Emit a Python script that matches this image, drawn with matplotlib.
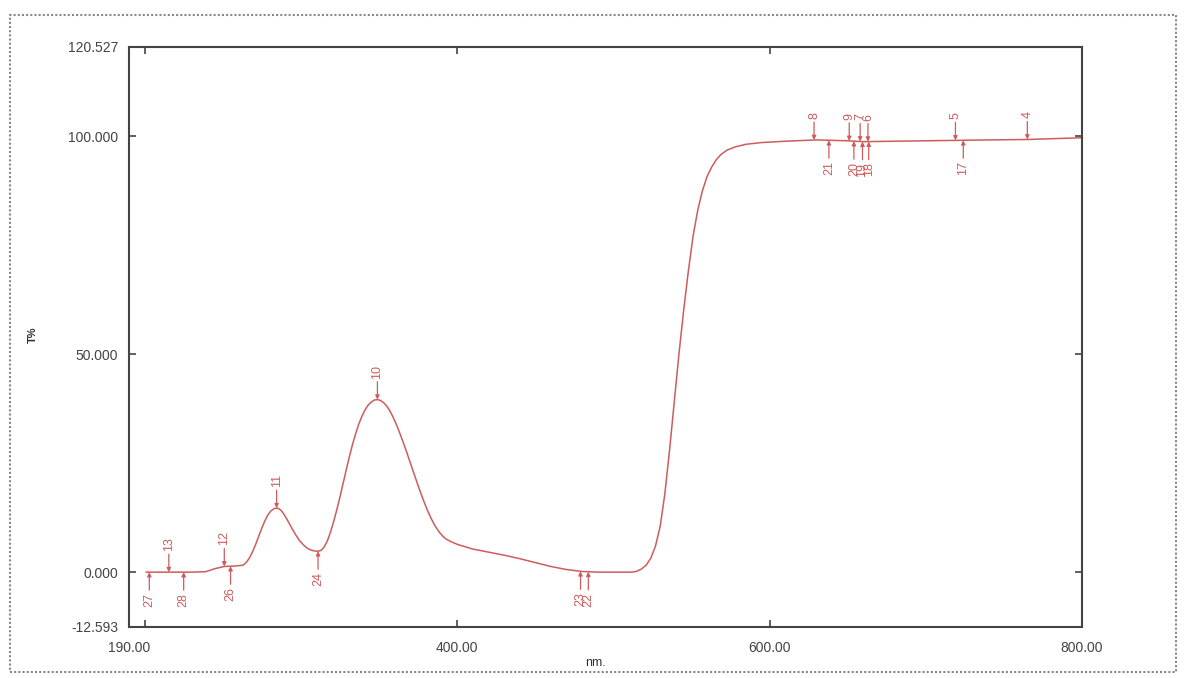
import numpy as np
import matplotlib
matplotlib.use("Agg")
import matplotlib.pyplot as plt
from matplotlib.patches import Rectangle

plt.rcParams["font.family"] = ["Liberation Sans", "DejaVu Sans"]

# spectrum (nm, T%)
WL = [201, 210, 220, 230, 239, 245, 251, 258, 263,
      265, 267, 269, 271, 273, 275, 277, 279, 281, 283, 285, 287, 289, 291, 293,
      295, 297, 299, 301, 303, 305, 307, 309, 311,
      313, 315, 317, 319, 321, 323, 325, 327, 329, 331, 333, 335, 337, 339, 341,
      343, 345, 347, 349, 351, 353, 355, 357, 359, 361, 363, 365, 367, 369, 371,
      373, 375, 377, 379, 381, 383, 385, 387, 389, 391, 393, 396, 400,
      410, 420, 430, 440, 450, 460, 470, 480, 490, 500, 512,
      515, 518, 521, 524, 527, 530, 533, 536, 539, 542, 545, 548, 551, 554, 557,
      560, 563, 566, 569, 573, 578, 585, 595, 610, 630, 650, 660, 680, 700, 720,
      740, 765, 800]
TRANS = [0.0, 0.0, 0.0, 0.0, 0.1, 0.8, 1.3, 1.4, 1.6,
         2.2, 3.2, 4.6, 6.3, 8.2, 10.1, 11.8, 13.2, 14.1, 14.6, 14.7, 14.3, 13.4, 12.2, 10.9,
         9.6, 8.4, 7.3, 6.5, 5.8, 5.3, 5.0, 4.85, 4.8,
         5.0, 5.8, 7.2, 9.2, 11.6, 14.3, 17.2, 20.3, 23.4, 26.4, 29.2, 31.7, 33.9, 35.7, 37.2,
         38.3, 39.0, 39.5, 39.6, 39.4, 38.9, 38.1, 37.0, 35.6, 34.0, 32.2, 30.3, 28.3, 26.2, 24.1,
         22.0, 19.9, 17.9, 16.0, 14.2, 12.6, 11.2, 10.0, 9.0, 8.2, 7.6, 7.0, 6.4,
         5.3, 4.6, 3.9, 3.1, 2.2, 1.3, 0.6, 0.15, 0.0, 0.0, 0.0,
         0.2, 0.7, 1.6, 3.2, 6.0, 10.5, 18.0, 28.0, 39.0, 50.0, 60.0, 69.0, 77.0, 83.0, 87.5,
         90.8, 93.0, 94.7, 95.9, 96.9, 97.6, 98.2, 98.6, 98.9, 99.2, 99.0, 98.8, 98.9, 99.0, 99.1,
         99.2, 99.3, 99.7]

PEAK_NM = [215.5, 251, 284.5, 349, 628.5, 651, 658, 663, 719, 765]
PEAK_LBL = ["13", "12", "11", "10", "8", "9", "7", "6", "5", "4"]
VALLEY_NM = [203, 225, 255, 311, 479, 484, 638, 654, 659.5, 663.5, 724]
VALLEY_LBL = ["27", "28", "26", "24", "23", "22", "21", "20", "19", "18", "17"]

X_TICKS = [190, 200, 400, 600, 800]
X_TICKLABELS = ["190.00", "", "400.00", "600.00", "800.00"]
Y_TICKS = [-12.593, 0, 50, 100, 120.527]
Y_TICKLABELS = ["-12.593", "0.000", "50.000", "100.000", "120.527"]

RED = "#cd5c5c"
AXC = "#444444"

fig = plt.figure(figsize=(11.86, 6.78), dpi=100)
ax = fig.add_axes([129 / 1186, 1 - 627 / 678, (1082 - 129) / 1186, (627 - 47) / 678])

ax.plot(WL, TRANS, color=RED, lw=1.1)

arrow = dict(arrowstyle="-|>", color=RED, lw=0.9, mutation_scale=6, shrinkA=0, shrinkB=0)
for nm, lbl in zip(PEAK_NM, PEAK_LBL):
    y = np.interp(nm, WL, TRANS)
    ax.annotate("", xy=(nm, y), xytext=(0, 18), textcoords="offset pixels",
                xycoords="data", arrowprops=arrow)
    ax.annotate(lbl, xy=(nm, y), xytext=(0, 21), textcoords="offset pixels",
                rotation=90, ha="center", va="bottom", color=RED, fontsize=9)
for nm, lbl in zip(VALLEY_NM, VALLEY_LBL):
    y = np.interp(nm, WL, TRANS)
    ax.annotate("", xy=(nm, y), xytext=(0, -18), textcoords="offset pixels",
                xycoords="data", arrowprops=arrow)
    ax.annotate(lbl, xy=(nm, y), xytext=(0, -21), textcoords="offset pixels",
                rotation=90, ha="center", va="top", color=RED, fontsize=9)

ax.set_xlim(190, 800)
ax.set_ylim(-12.593, 120.527)
ax.set_xticks(X_TICKS)
ax.set_xticklabels(X_TICKLABELS)
ax.set_yticks(Y_TICKS)
ax.set_yticklabels(Y_TICKLABELS)
ax.tick_params(direction="in", length=5, width=1.2, colors=AXC, labelsize=10,
               top=True, right=True, pad=8)
ax.tick_params(axis="x", pad=10)
for s in ax.spines.values():
    s.set_color(AXC)
    s.set_linewidth(1.5)

fig.text(33 / 1186, 1 - 335 / 678, "T%", fontsize=8, fontweight="bold",
         color="#333333", rotation=90, ha="center", va="center")
fig.text(595 / 1186, 1 - 663 / 678, "nm.", fontsize=9, color="#333333",
         ha="center", va="center")

# scanned page frame
fig.add_artist(Rectangle((10 / 1186, 6 / 678), 1166 / 1186, 657 / 678,
                         transform=fig.transFigure, fill=False,
                         ls=(0, (1, 1)), lw=1.5, color="#888888"))

fig.savefig("out.png", dpi=100)
